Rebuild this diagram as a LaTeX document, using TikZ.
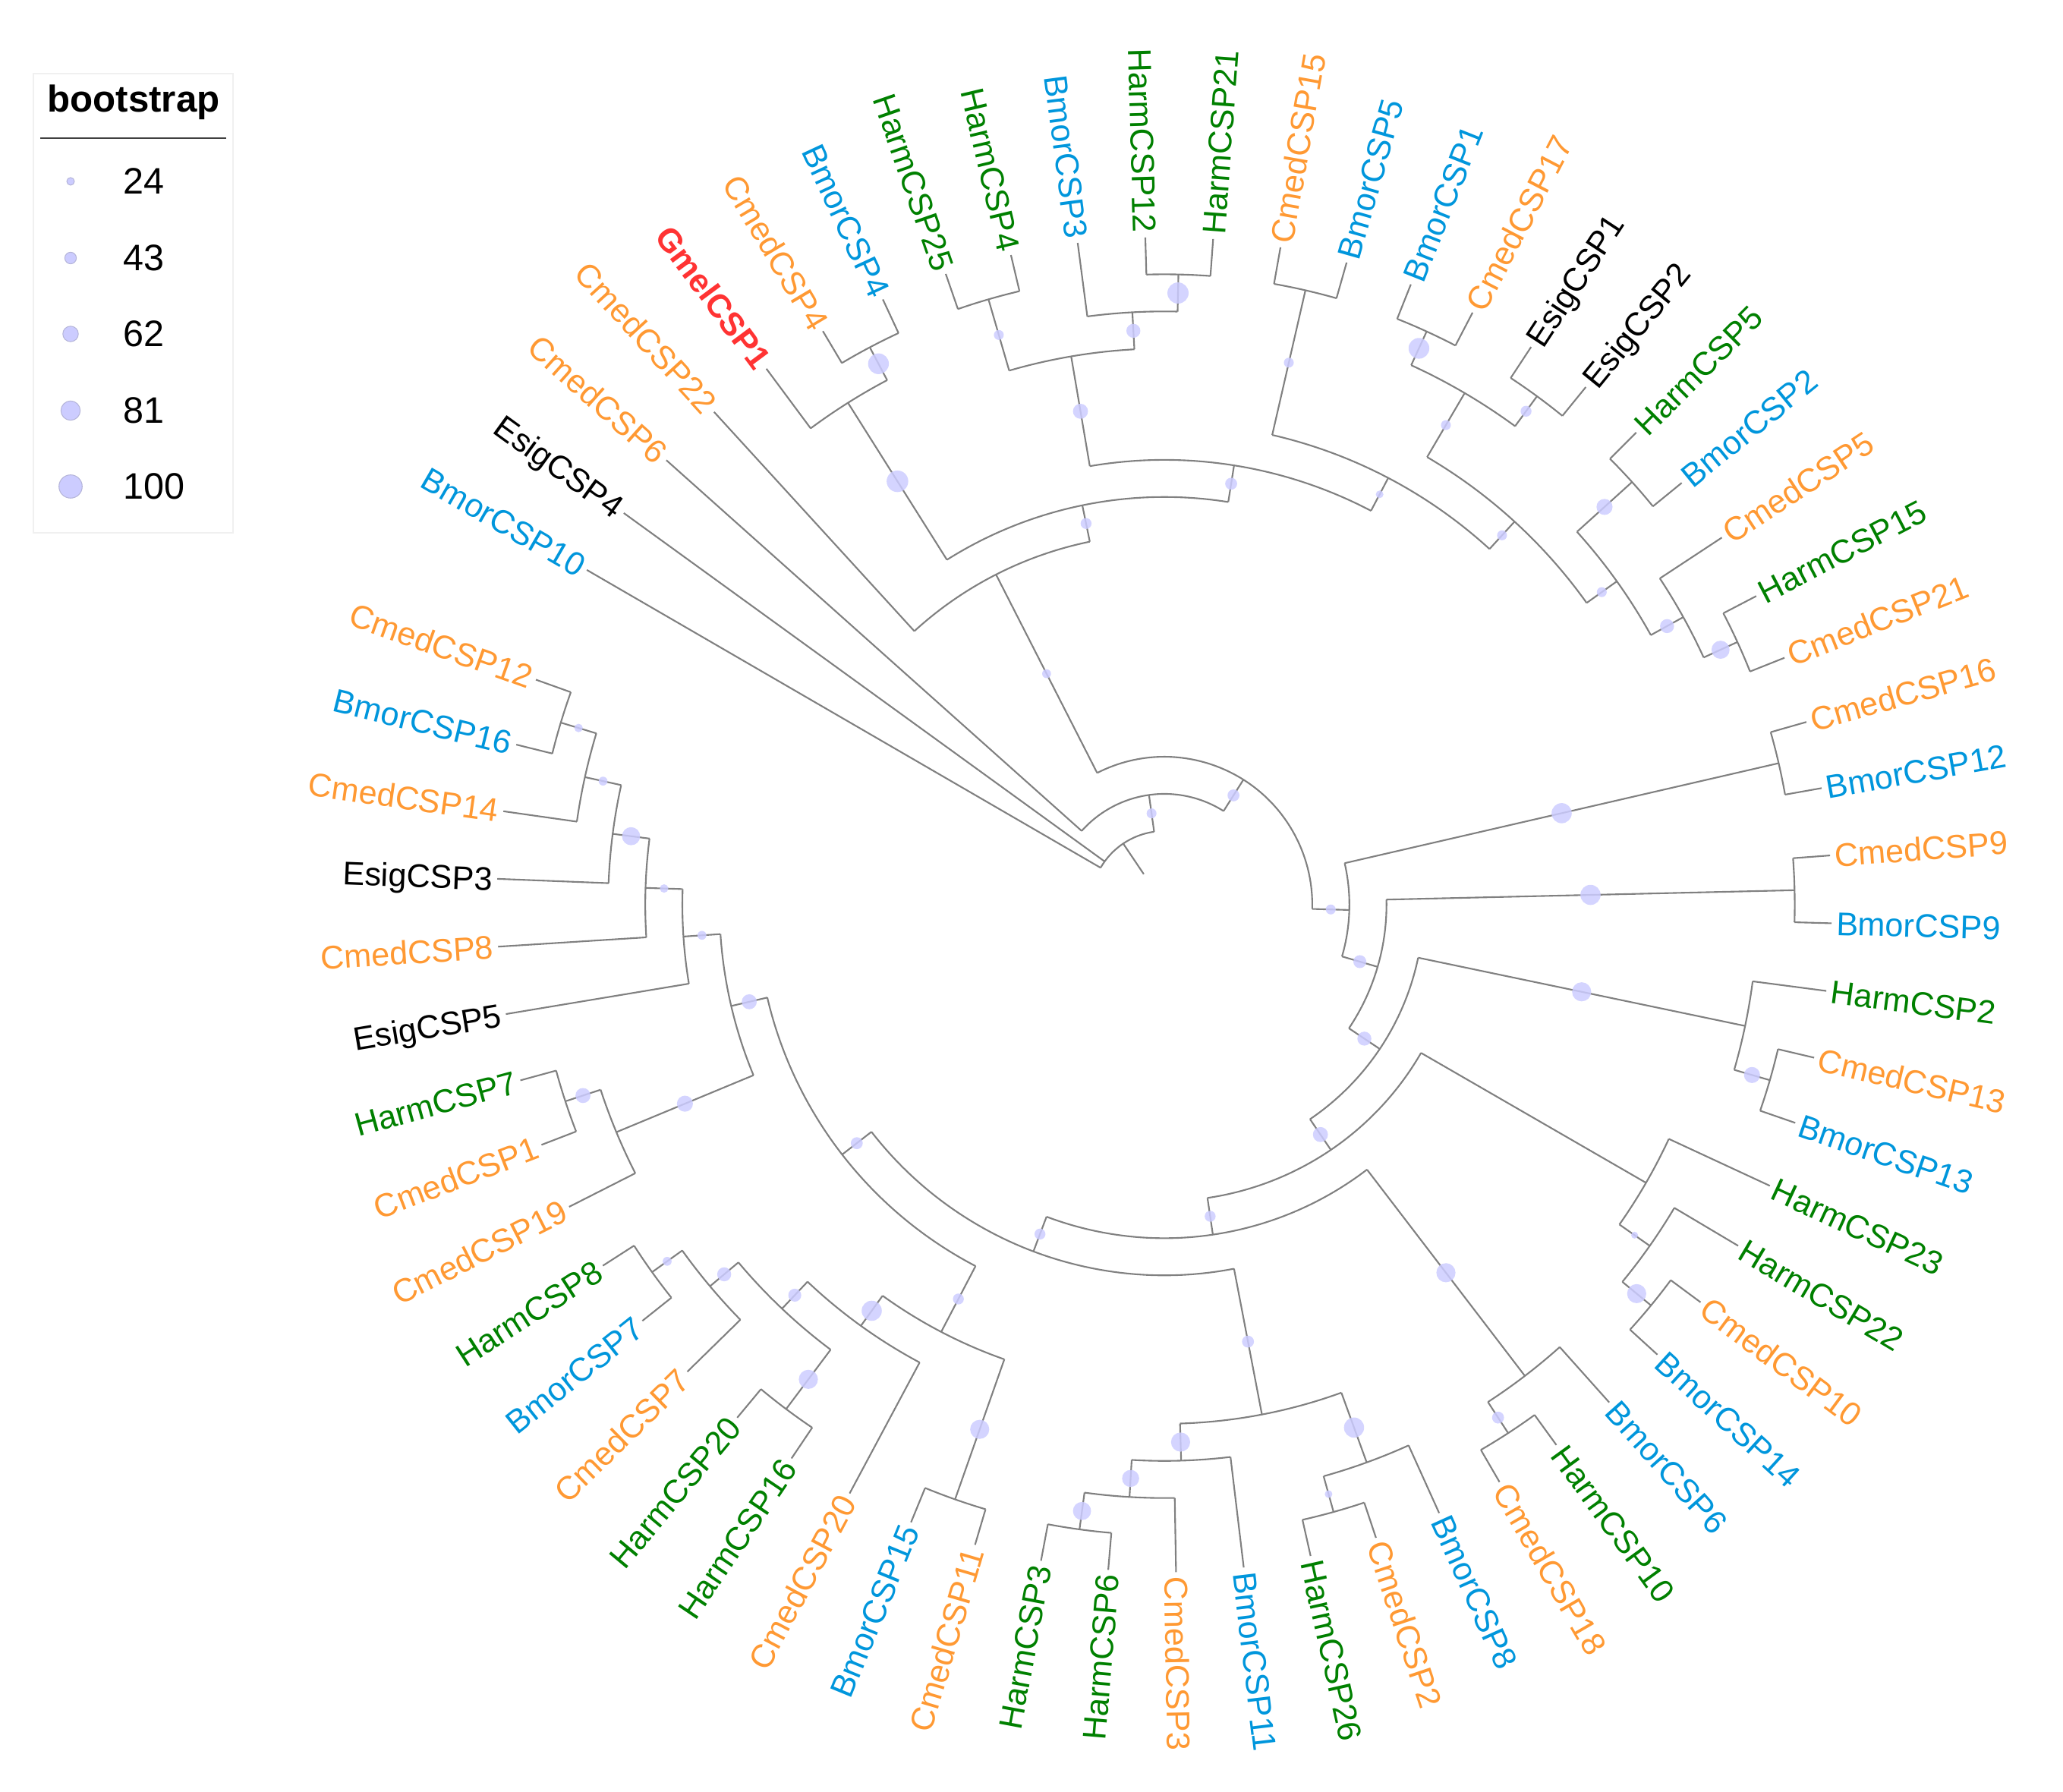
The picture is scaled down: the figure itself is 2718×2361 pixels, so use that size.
\documentclass[tikz,border=0pt]{standalone}
\usepackage{fontspec}
\setmainfont{Liberation Sans}

\definecolor{cmedc}{RGB}{255,153,51}
\definecolor{bmorc}{RGB}{0,150,220}
\definecolor{harmc}{RGB}{0,128,0}
\definecolor{gmelc}{RGB}{255,51,51}
\definecolor{dotc}{RGB}{204,204,255}
\definecolor{branchc}{RGB}{128,128,128}

\newcommand{\tipR}{879.5}
\newcommand{\stepR}{48.9}

% leaf label on the tip circle, name = text
\newcommand{\leaf}[3]{%
  \pgfmathsetmacro{\la}{149.9-5.8267*#2}%
  \expandafter\xdef\csname ang@#1\endcsname{\la}%
  \expandafter\xdef\csname rad@#1\endcsname{\tipR}%
  \expandafter\xdef\csname bs@#1\endcsname{0}%
  \pgfmathtruncatemacro{\side}{and(\la>-90,\la<90)}%
  \ifnum\side=1
    \node[#3, anchor=west, rotate=\la] (#1) at (\la:\tipR) {#1};
  \else
    \pgfmathsetmacro{\lb}{\la+180}%
    \node[#3, anchor=east, rotate=\lb] (#1) at (\la:\tipR) {#1};
  \fi}

% bootstrap dot half way along the stem of a child
\newcommand{\bsdot}[2]{%
  \pgfmathsetmacro{\bsv}{\csname bs@#1\endcsname}%
  \ifdim\bsv pt>0pt
    \pgfmathsetmacro{\bsr}{(\csname rad@#1\endcsname+\radC)/2}%
    \pgfmathsetmacro{\bsz}{1.8+0.135*\bsv}%
    \fill[bootdot] (#2:\bsr) circle[radius=\bsz];
  \fi}

% clade: name, height, child, child, bootstrap
\newcommand{\clade}[5]{%
  \pgfmathsetmacro{\angA}{\csname ang@#3\endcsname}%
  \pgfmathsetmacro{\angB}{\csname ang@#4\endcsname}%
  \pgfmathsetmacro{\angC}{(\angA+\angB)/2}%
  \pgfmathsetmacro{\radC}{\tipR-\stepR*#2}%
  \expandafter\xdef\csname ang@#1\endcsname{\angC}%
  \expandafter\xdef\csname rad@#1\endcsname{\radC}%
  \expandafter\xdef\csname bs@#1\endcsname{#5}%
  \coordinate (#1) at (\angC:\radC);
  \coordinate (#3-ft) at (\angA:\radC);
  \coordinate (#4-ft) at (\angB:\radC);
  \draw[branch] (#3-ft) arc[start angle=\angA, end angle=\angB, radius=\radC];
  \draw[branch] (#3-ft) -- (#3);
  \draw[branch] (#4-ft) -- (#4);
  \bsdot{#3}{\angA}\bsdot{#4}{\angB}}

\begin{document}
\begin{tikzpicture}[x=0.01cm, y=0.01cm,
    branch/.style = {draw=branchc, line width=0.6pt},
    bootdot/.style = {fill=dotc, fill opacity=0.85},
    leaflab/.style = {font=\fontsize{12.3}{14}\selectfont, inner xsep=1.6pt, inner ysep=0pt, text height=8.8pt, text depth=0pt},
    cmed/.style = {leaflab, text=cmedc},
    bmor/.style = {leaflab, text=bmorc},
    harm/.style = {leaflab, text=harmc},
    esig/.style = {leaflab, text=black},
    gmel/.style = {leaflab, text=gmelc, font=\fontsize{12.3}{14}\selectfont\bfseries},
    lgnum/.style = {anchor=west, font=\fontsize{13.8}{16}\selectfont, inner sep=0pt}]
\useasboundingbox (0,0) rectangle (2718,2361);

% legend
\draw[draw=black!6] (44,1659) rectangle (307,2264);
\node[font=\fontsize{14}{16}\selectfont\bfseries] (lgtitle) at (176,2226) {bootstrap};
\draw[black!75, line width=0.7pt] (53,2179) -- (298,2179);
\fill[dotc, draw=dotc!70!gray, line width=0.3pt] (93,2122) circle[radius=5.0];
\fill[dotc, draw=dotc!70!gray, line width=0.3pt] (93,2021) circle[radius=7.6];
\fill[dotc, draw=dotc!70!gray, line width=0.3pt] (93,1921) circle[radius=10.2];
\fill[dotc, draw=dotc!70!gray, line width=0.3pt] (93,1820) circle[radius=12.7];
\fill[dotc, draw=dotc!70!gray, line width=0.3pt] (93,1720) circle[radius=15.3];
\node[lgnum] (lg24) at (162,2122) {24};
\node[lgnum] (lg43) at (162,2021) {43};
\node[lgnum] (lg62) at (162,1921) {62};
\node[lgnum] (lg81) at (162,1820) {81};
\node[lgnum] (lg100) at (162,1720) {100};

\begin{scope}[shift={(1534,1169)}]
% leaves, clockwise from the gap
\leaf{BmorCSP10}{0}{bmor}
\leaf{EsigCSP4}{1}{esig}
\leaf{CmedCSP6}{2}{cmed}
\leaf{CmedCSP22}{3}{cmed}
\leaf{GmelCSP1}{4}{gmel}
\leaf{CmedCSP4}{5}{cmed}
\leaf{BmorCSP4}{6}{bmor}
\leaf{HarmCSP25}{7}{harm}
\leaf{HarmCSP4}{8}{harm}
\leaf{BmorCSP3}{9}{bmor}
\leaf{HarmCSP12}{10}{harm}
\leaf{HarmCSP21}{11}{harm}
\leaf{CmedCSP15}{12}{cmed}
\leaf{BmorCSP5}{13}{bmor}
\leaf{BmorCSP1}{14}{bmor}
\leaf{CmedCSP17}{15}{cmed}
\leaf{EsigCSP1}{16}{esig}
\leaf{EsigCSP2}{17}{esig}
\leaf{HarmCSP5}{18}{harm}
\leaf{BmorCSP2}{19}{bmor}
\leaf{CmedCSP5}{20}{cmed}
\leaf{HarmCSP15}{21}{harm}
\leaf{CmedCSP21}{22}{cmed}
\leaf{CmedCSP16}{23}{cmed}
\leaf{BmorCSP12}{24}{bmor}
\leaf{CmedCSP9}{25}{cmed}
\leaf{BmorCSP9}{26}{bmor}
\leaf{HarmCSP2}{27}{harm}
\leaf{CmedCSP13}{28}{cmed}
\leaf{BmorCSP13}{29}{bmor}
\leaf{HarmCSP23}{30}{harm}
\leaf{HarmCSP22}{31}{harm}
\leaf{CmedCSP10}{32}{cmed}
\leaf{BmorCSP14}{33}{bmor}
\leaf{BmorCSP6}{34}{bmor}
\leaf{HarmCSP10}{35}{harm}
\leaf{CmedCSP18}{36}{cmed}
\leaf{BmorCSP8}{37}{bmor}
\leaf{CmedCSP2}{38}{cmed}
\leaf{HarmCSP26}{39}{harm}
\leaf{BmorCSP11}{40}{bmor}
\leaf{CmedCSP3}{41}{cmed}
\leaf{HarmCSP6}{42}{harm}
\leaf{HarmCSP3}{43}{harm}
\leaf{CmedCSP11}{44}{cmed}
\leaf{BmorCSP15}{45}{bmor}
\leaf{CmedCSP20}{46}{cmed}
\leaf{HarmCSP16}{47}{harm}
\leaf{HarmCSP20}{48}{harm}
\leaf{CmedCSP7}{49}{cmed}
\leaf{BmorCSP7}{50}{bmor}
\leaf{HarmCSP8}{51}{harm}
\leaf{CmedCSP19}{52}{cmed}
\leaf{CmedCSP1}{53}{cmed}
\leaf{HarmCSP7}{54}{harm}
\leaf{EsigCSP5}{55}{esig}
\leaf{CmedCSP8}{56}{cmed}
\leaf{EsigCSP3}{57}{esig}
\leaf{CmedCSP14}{58}{cmed}
\leaf{BmorCSP16}{59}{bmor}
\leaf{CmedCSP12}{60}{cmed}

% top
\clade{C1}{1}{CmedCSP4}{BmorCSP4}{88}
\clade{P1}{2}{GmelCSP1}{C1}{92}
\clade{HH1}{1}{HarmCSP25}{HarmCSP4}{35}
\clade{HH2}{1}{HarmCSP12}{HarmCSP21}{90}
\clade{HH3}{2}{BmorCSP3}{HH2}{55}
\clade{NH}{3}{HH1}{HH3}{60}
\clade{R1}{1}{CmedCSP15}{BmorCSP5}{35}
\clade{Q1}{1}{BmorCSP1}{CmedCSP17}{88}
\clade{Q2}{1}{EsigCSP1}{EsigCSP2}{40}
\clade{Q3}{2}{Q1}{Q2}{35}
\clade{Q4}{1}{HarmCSP5}{BmorCSP2}{65}
\clade{Q5}{1}{HarmCSP15}{CmedCSP21}{75}
\clade{Q6}{2}{CmedCSP5}{Q5}{55}
\clade{Q7}{3}{Q4}{Q6}{35}
\clade{Q}{4}{Q3}{Q7}{35}
\clade{R5}{5}{R1}{Q}{24}
\clade{N1}{6}{NH}{R5}{45}
\clade{N2}{7}{P1}{N1}{40}
\clade{N3}{8}{CmedCSP22}{N2}{30}
% right
\clade{Y}{1}{CmedCSP16}{BmorCSP12}{85}
\clade{Z1}{1}{CmedCSP9}{BmorCSP9}{85}
\clade{W1}{1}{CmedCSP13}{BmorCSP13}{65}
\clade{W2}{2}{HarmCSP2}{W1}{80}
\clade{V1}{1}{CmedCSP10}{BmorCSP14}{80}
\clade{V2}{2}{HarmCSP22}{V1}{20}
\clade{V3}{3}{HarmCSP23}{V2}{0}
\clade{U1}{1}{HarmCSP10}{CmedCSP18}{45}
\clade{U2}{2}{BmorCSP6}{U1}{80}
% bottom
\clade{K1}{1}{HarmCSP3}{HarmCSP6}{75}
\clade{K2}{2}{K1}{CmedCSP3}{70}
\clade{K3}{3}{K2}{BmorCSP11}{80}
\clade{K5}{1}{HarmCSP26}{CmedCSP2}{24}
\clade{K6}{2}{K5}{BmorCSP8}{85}
\clade{K4}{4}{K3}{K6}{45}
\clade{G1}{1}{HarmCSP8}{BmorCSP7}{30}
\clade{G2}{2}{G1}{CmedCSP7}{55}
\clade{G3}{1}{HarmCSP20}{HarmCSP16}{80}
\clade{G4}{3}{G2}{G3}{50}
\clade{G5}{4}{G4}{CmedCSP20}{85}
\clade{G6}{1}{BmorCSP15}{CmedCSP11}{80}
\clade{G7}{5}{G5}{G6}{40}
% left
\clade{L1}{1}{CmedCSP12}{BmorCSP16}{28}
\clade{L2}{2}{L1}{CmedCSP14}{30}
\clade{L3}{3}{L2}{EsigCSP3}{75}
\clade{L4}{4}{L3}{CmedCSP8}{28}
\clade{L5}{5}{L4}{EsigCSP5}{30}
\clade{M1}{1}{HarmCSP7}{CmedCSP1}{60}
\clade{M2}{2}{M1}{CmedCSP19}{65}
\clade{L6}{6}{L5}{M2}{60}
% backbone
\clade{S}{7}{L6}{G7}{45}
\clade{T}{8}{S}{K4}{40}
\clade{U}{9}{T}{U2}{40}
\clade{V}{10}{V3}{U}{60}
\clade{W}{11}{W2}{V}{55}
\clade{Z}{12}{Z1}{W}{50}
\clade{X}{13}{Y}{Z}{35}
\clade{N14}{14}{N3}{X}{45}
\clade{N15}{15}{CmedCSP6}{N14}{35}
\clade{root}{16}{BmorCSP10}{N15}{0}
\coordinate (EsigCSP4-ft) at ({\csname ang@EsigCSP4\endcsname}:\radC);
\draw[branch] (EsigCSP4-ft) -- (EsigCSP4);
\pgfmathsetmacro{\stubr}{\radC/2}
\coordinate (rootstub) at (\angC:\stubr);
\draw[branch] (root) -- (rootstub);
\end{scope}
\end{tikzpicture}
\end{document}
